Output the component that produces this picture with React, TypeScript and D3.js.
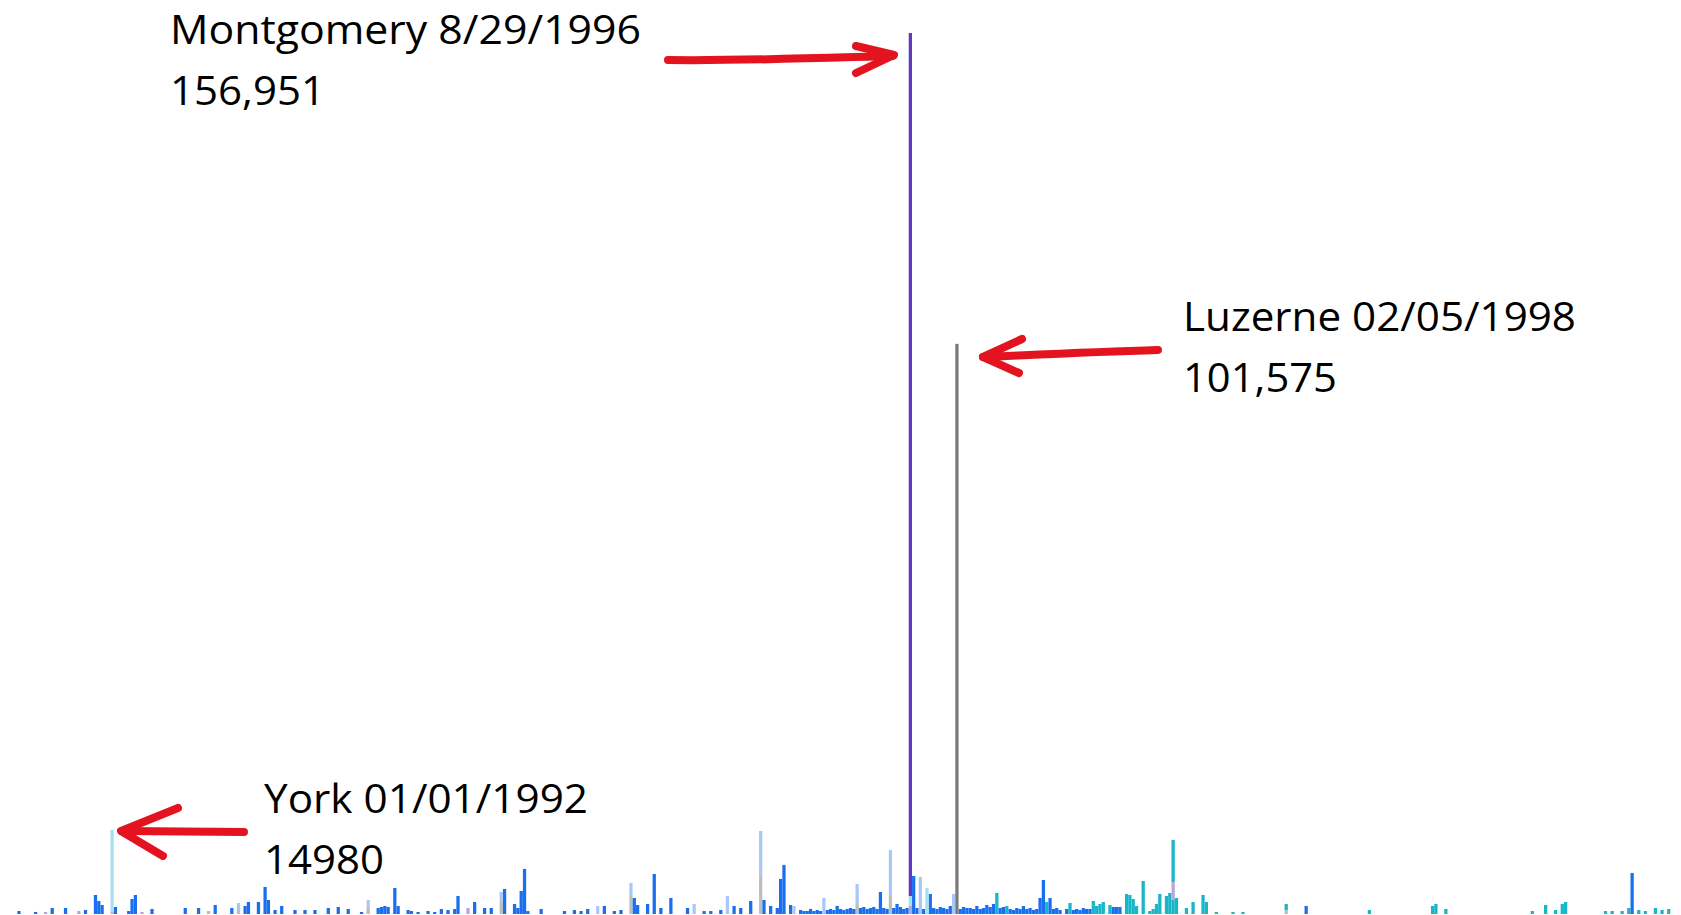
import React from 'react';
import * as d3 from 'd3';

// ---- categories: observation slots along the x axis ----
const N_SLOTS = 500;
const slotIds: number[] = d3.range(N_SLOTS);

// ---- series values: [slot, value] pairs ----
const grayVals: [number, number][] = [
  [29, 360], [58, 530], [67, 700], [106, 1070], [146, 2140], [185, 3210], [224, 6780],
  [253, 1960], [263, 3210], [382, 700],
];
const tealVals: [number, number][] = [
  [295, 3750], [298, 1430], [310, 2140], [317, 1960], [324, 2320], [325, 1430], [326, 1780],
  [327, 2140], [329, 1600], [334, 3570], [335, 3390], [336, 2670], [337, 1430], [339, 5880],
  [341, 530], [342, 890], [343, 1780], [344, 3570], [346, 3210], [347, 3750], [348, 2500],
  [349, 2850], [352, 1070], [354, 2140], [357, 3390], [358, 2140], [361, 360], [366, 360],
  [369, 360], [382, 1070], [407, 710], [426, 1430], [427, 1780], [430, 890], [456, 530],
  [460, 1600], [463, 710], [465, 1780], [466, 2140], [478, 530], [480, 530], [483, 530],
  [485, 1070], [488, 710], [490, 530], [493, 1070], [495, 710], [497, 890],
];
const lightPurpleVals: [number, number][] = [
  [9, 360], [19, 530], [38, 360], [136, 1070], [269, 1430], [348, 3210],
];
const blueVals: [number, number][] = [
  [1, 530], [6, 360], [11, 1070], [15, 1070], [21, 710], [24, 3390], [25, 2320], [26, 1600],
  [30, 1250], [34, 530], [35, 2670], [36, 3390], [41, 890], [51, 1070], [55, 1070], [60, 1600],
  [65, 1070], [69, 1430], [70, 2140], [73, 2140], [75, 4820], [76, 2500], [78, 710], [80, 1430],
  [84, 710], [87, 710], [90, 710], [94, 1070], [97, 1250], [100, 890], [104, 360], [109, 1070],
  [110, 1250], [111, 1430], [112, 1250], [114, 4640], [115, 1430], [118, 710], [119, 530],
  [121, 360], [124, 530], [126, 360], [128, 890], [130, 710], [132, 890], [133, 3210],
  [138, 2140], [141, 1070], [143, 1070], [147, 4460], [150, 1780], [151, 1070], [152, 4100],
  [153, 8030], [154, 530], [158, 890], [165, 530], [168, 710], [170, 530], [172, 890],
  [177, 1430], [180, 530], [182, 710], [186, 2850], [187, 1600], [190, 1780], [192, 7130],
  [194, 1070], [197, 2850], [202, 1070], [207, 530], [209, 530], [212, 710], [216, 1430],
  [218, 1070], [221, 2320], [225, 2500], [227, 1430], [229, 1070], [230, 6240], [231, 8740],
  [233, 1600], [236, 710], [237, 530], [238, 530], [239, 890], [240, 530], [241, 710],
  [242, 530], [244, 710], [245, 890], [246, 710], [247, 1430], [248, 890], [249, 710],
  [250, 890], [251, 1070], [252, 890], [254, 1070], [255, 1250], [256, 890], [257, 1070],
  [258, 1250], [259, 890], [260, 3920], [261, 1070], [262, 890], [264, 1070], [265, 1780],
  [266, 1250], [267, 890], [268, 1070], [270, 6780], [271, 1070], [273, 890], [275, 3570],
  [276, 1070], [277, 890], [278, 1250], [279, 1070], [280, 890], [281, 1430], [284, 890],
  [285, 1250], [286, 1070], [287, 1070], [288, 890], [289, 1430], [290, 890], [291, 1070],
  [292, 1600], [293, 1250], [294, 1780], [296, 1070], [297, 1250], [299, 890], [300, 710],
  [301, 1070], [302, 890], [303, 1430], [304, 890], [305, 1070], [306, 710], [307, 890],
  [308, 2850], [309, 6060], [311, 2850], [312, 890], [313, 1070], [314, 710], [316, 890],
  [318, 710], [319, 890], [320, 710], [321, 1070], [322, 890], [323, 890], [330, 1250],
  [331, 1250], [332, 1250], [388, 1430], [486, 7310],
];
const lightCyanVals: [number, number][] = [[29, 14620], [269, 1780], [274, 4640]];
const lightBlueVals: [number, number][] = [
  [67, 1260], [106, 1430], [146, 1780], [175, 1430], [185, 2320], [204, 1780], [214, 3210],
  [224, 8020], [234, 1430], [243, 2850], [253, 3390], [263, 8200], [272, 6600], [282, 3570],
];
const tealTopVals: [number, number][] = [[348, 7500]];
const purpleVals: [number, number][] = [[269, 153741]];
const darkGrayVals: [number, number][] = [[283, 101575]];

const seriesKeys = ['gray', 'teal', 'lightPurple', 'blue', 'lightCyan', 'lightBlue', 'tealTop', 'purple', 'darkGray'];
const seriesColors = ['#bdbdbd', '#17b6c9', '#b6a6da', '#1a6ff0', '#a3e1eb', '#a9c8f7', '#17b6c9', '#5d3abf', '#7a7a7a'];
const seriesValues = [grayVals, tealVals, lightPurpleVals, blueVals, lightCyanVals, lightBlueVals, tealTopVals, purpleVals, darkGrayVals];

// ---- annotation texts ----
const annoMontgomery = ['Montgomery 8/29/1996', '156,951'];
const annoLuzerne = ['Luzerne 02/05/1998', '101,575'];
const annoYork = ['York 01/01/1992', '14980'];

const W = 1681;
const H = 915;

export default function App() {
  const table = slotIds.map((s) => {
    const row: Record<string, number> = { slot: s };
    seriesKeys.forEach((k) => (row[k] = 0));
    return row;
  });
  seriesValues.forEach((vals, i) => {
    vals.forEach(([s, v]) => {
      table[s][seriesKeys[i]] += v;
    });
  });
  const stacked = d3.stack<Record<string, number>>().keys(seriesKeys)(table);

  const x = d3.scaleBand<number>().domain(slotIds).range([14, 1677]).paddingInner(0.02).paddingOuter(0);
  const y = d3.scaleLinear().domain([0, 156951]).range([914, 33]);

  const red = '#e3141f';
  const font = '"Open Sans", "Liberation Sans", sans-serif';

  const textBlock = (lines: string[], x0: number, y0: number, widths: number[]) =>
    lines.map((t, i) => (
      <text
        key={t}
        x={x0}
        y={y0 + i * 61}
        fontFamily={font}
        fontSize={41}
        fill="#000"
        textLength={widths[i]}
        lengthAdjust="spacingAndGlyphs"
      >
        {t}
      </text>
    ));

  return (
    <svg
      width={W}
      height={H}
      style={{ position: 'absolute', left: 0, top: 0, background: '#fff' }}
    >
      <defs>
        <linearGradient id="baseGrad" x1="0" x2="1" y1="0" y2="0">
          <stop offset="0" stopColor="#2a8fe6" />
          <stop offset="0.55" stopColor="#1b9ee0" />
          <stop offset="0.7" stopColor="#17b3cc" />
          <stop offset="1" stopColor="#17b6c9" />
        </linearGradient>
      </defs>
      <rect x={0} y={0} width={W} height={H} fill="#fff" />
      <g>
        {stacked.map((layer, li) => (
          <g key={layer.key} fill={seriesColors[li]}>
            {layer.map((d, i) =>
              d[1] - d[0] > 0 ? (
                <rect
                  key={i}
                  x={x(slotIds[i])}
                  width={x.bandwidth()}
                  y={y(d[1])}
                  height={Math.max(0, y(d[0]) - y(d[1]))}
                />
              ) : null
            )}
          </g>
        ))}
      </g>
      <line x1={13} x2={W} y1={913.5} y2={913.5} stroke="url(#baseGrad)" strokeWidth={3} />

      {/* annotations */}
      {textBlock(annoMontgomery, 170, 44, [471, 155])}
      {textBlock(annoLuzerne, 1183, 331, [393, 154])}
      {textBlock(annoYork, 264, 813, [324, 120])}

      <g fill="none" stroke={red} strokeWidth={8} strokeLinecap="round" strokeLinejoin="round">
        <path d="M668,60 C740,61 820,58 893,56" />
        <path d="M856,46 L894,55 L856,73" />
        <path d="M1158,350 C1090,352 1030,355 983,357" />
        <path d="M1022,339 L983,357 L1019,373" />
        <path d="M244,832 C200,832 160,831 122,831" />
        <path d="M178,808 L121,831 L163,856" />
      </g>
    </svg>
  );
}
